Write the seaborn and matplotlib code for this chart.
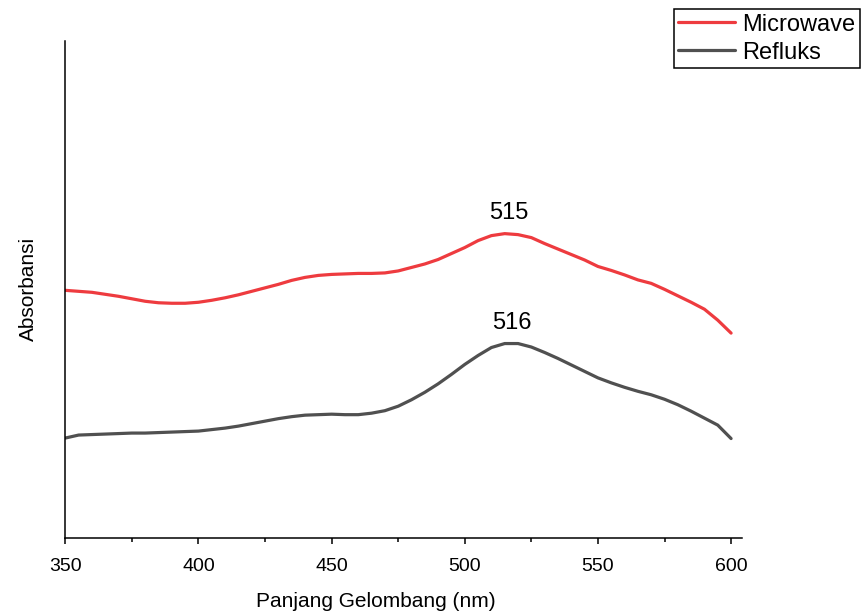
import numpy as np
import pandas as pd
import matplotlib
matplotlib.use('Agg')
import matplotlib.pyplot as plt
from matplotlib.ticker import MultipleLocator
import seaborn as sns

'''Data read off the spectrum (arbitrary absorbance units)'''

wavelength = [350, 355, 360, 365, 370, 375, 380, 385, 390, 395,
              400, 405, 410, 415, 420, 425, 430, 435, 440, 445,
              450, 455, 460, 465, 470, 475, 480, 485, 490, 495,
              500, 505, 510, 515, 520, 525, 530, 535, 540, 545,
              550, 555, 560, 565, 570, 575, 580, 585, 590, 595, 600]

microwave = [0.498, 0.496, 0.494, 0.490, 0.486, 0.481, 0.476, 0.473, 0.472, 0.472,
             0.474, 0.478, 0.483, 0.489, 0.496, 0.503, 0.510, 0.518, 0.524, 0.528,
             0.530, 0.531, 0.532, 0.532, 0.533, 0.537, 0.544, 0.551, 0.560, 0.572,
             0.584, 0.598, 0.608, 0.612, 0.610, 0.604, 0.592, 0.581, 0.570, 0.559,
             0.546, 0.538, 0.529, 0.519, 0.512, 0.500, 0.487, 0.474, 0.460, 0.438, 0.412]

refluks = [0.201, 0.207, 0.208, 0.209, 0.210, 0.211, 0.211, 0.212, 0.213, 0.214,
           0.215, 0.218, 0.221, 0.225, 0.230, 0.235, 0.240, 0.244, 0.247, 0.248,
           0.249, 0.248, 0.248, 0.251, 0.256, 0.265, 0.278, 0.293, 0.310, 0.329,
           0.349, 0.367, 0.383, 0.391, 0.391, 0.384, 0.373, 0.361, 0.348, 0.335,
           0.322, 0.312, 0.303, 0.295, 0.288, 0.279, 0.268, 0.255, 0.241, 0.227, 0.200]

series_names = ['Microwave', 'Refluks']
series_colors = ['#EE3B3F', '#505050']
peak_labels = ['515', '516']
x_ticks = [350, 400, 450, 500, 550, 600]


def build_frame():
    '''Long-form table for seaborn'''
    df = pd.concat([
        pd.DataFrame({'wavelength': wavelength, 'absorbance': microwave, 'sample': series_names[0]}),
        pd.DataFrame({'wavelength': wavelength, 'absorbance': refluks, 'sample': series_names[1]}),
    ], ignore_index=True)
    return df


def main():
    sns.set_style('ticks')
    plt.rcParams['font.family'] = ['Liberation Sans', 'DejaVu Sans']
    plt.rcParams['text.color'] = 'black'
    plt.rcParams['axes.labelcolor'] = 'black'

    df = build_frame()

    fig = plt.figure(figsize=(8.65, 6.16), dpi=100)
    ax = fig.add_axes([0.0755, 0.1266, 0.782, 0.8074])

    sns.lineplot(data=df, x='wavelength', y='absorbance', hue='sample',
                 palette=dict(zip(series_names, series_colors)),
                 linewidth=2.3, ax=ax, legend=False)

    # peak annotations, placed at the labelled wavelength just above each maximum
    for vals, lab in zip([microwave, refluks], peak_labels):
        ax.annotate(lab, xy=(float(lab), max(vals)), xytext=(3, 7),
                    textcoords='offset points', ha='center', va='bottom',
                    fontsize=17, color='black')

    ax.set_xlim(350, 604)
    ax.set_ylim(0, 1)
    ax.set_xticks(x_ticks)
    ax.xaxis.set_minor_locator(MultipleLocator(25))
    ax.set_yticks([])

    ax.tick_params(axis='x', which='major', direction='out', length=4.5, width=1.1,
                   labelsize=14, pad=10, color='black', labelcolor='black')
    ax.tick_params(axis='x', which='minor', direction='out', length=3, width=1.1, color='black')

    for side in ['top', 'right']:
        ax.spines[side].set_visible(False)
    for side in ['left', 'bottom']:
        ax.spines[side].set_linewidth(1.1)
        ax.spines[side].set_color('black')

    ax.set_xlabel('Panjang Gelombang (nm)', fontsize=15)
    ax.set_ylabel('Absorbansi', fontsize=15)
    ax.xaxis.set_label_coords(0.459, -0.108)
    ax.yaxis.set_label_coords(-0.040, 0.5)

    # legend sits outside the axes in the top right corner
    handles = [plt.Line2D([], [], color=c, lw=2.3) for c in series_colors]
    leg = fig.legend(handles, series_names, loc='upper right',
                     bbox_to_anchor=(860 / 865, 1 - 9 / 616), borderaxespad=0,
                     fontsize=17, frameon=True, fancybox=False, framealpha=1,
                     edgecolor='black', handlelength=2.4, handletextpad=0.3,
                     labelspacing=0.25, borderpad=0.2)
    leg.get_frame().set_linewidth(1.1)

    fig.savefig('out.png', dpi=100)


if __name__ == '__main__':
    main()
